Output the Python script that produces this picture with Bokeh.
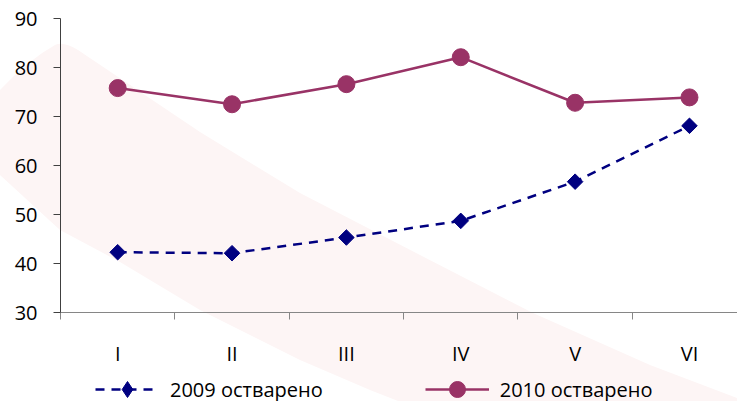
import numpy as np
from bokeh.plotting import figure
from bokeh.layouts import column
from bokeh.models import Range1d, FixedTicker, Legend, LegendItem, ColumnDataSource
from bokeh.embed import file_html
from bokeh.resources import INLINE

months = ["I", "II", "III", "IV", "V", "VI"]
y2009 = [42.3, 42.1, 45.3, 48.7, 56.7, 68.1]
y2010 = [75.8, 72.5, 76.6, 82.1, 72.8, 73.9]
y_ticks = [30, 40, 50, 60, 70, 80, 90]
label_2009 = "2009 остварено"
label_2010 = "2010 остварено"

C09 = "#000080"
C10 = "#993366"
FONT = "Open Sans"
FS = "20px"

pos = list(range(1, len(months) + 1))
src = ColumnDataSource(dict(x=pos, y09=y2009, y10=y2010))

p = figure(width=737, height=369, x_range=Range1d(0.5, 6.42), y_range=Range1d(30, 90),
           output_backend="svg", toolbar_location=None,
           min_border_left=60, min_border_right=0, min_border_top=18, min_border_bottom=56)
p.grid.visible = False
p.outline_line_color = None
p.background_fill_color = None
p.border_fill_color = None

p.line("x", "y09", source=src, line_color=C09, line_width=2.5, line_dash="9 7")
p.scatter("x", "y09", source=src, marker="square", angle=np.pi / 4, size=11,
          fill_color=C09, line_color=C09)
p.line("x", "y10", source=src, line_color=C10, line_width=2.5)
p.scatter("x", "y10", source=src, marker="circle", size=17, fill_color=C10, line_color=C10)

xa = p.xaxis[0]
xa.ticker = FixedTicker(ticks=pos, minor_ticks=[v - 0.5 for v in pos] + [pos[-1] + 0.5])
xa.major_label_overrides = {v: m for v, m in zip(pos, months)}
xa.major_tick_out = 0
xa.major_tick_in = 0
xa.minor_tick_out = 7
xa.minor_tick_in = 0
xa.minor_tick_line_color = "#868686"
xa.axis_line_color = "#868686"
xa.major_label_standoff = 20
xa.major_label_text_font = FONT
xa.major_label_text_font_size = FS
xa.major_label_text_color = "#000000"

ya = p.yaxis[0]
ya.ticker = FixedTicker(ticks=y_ticks)
ya.major_tick_out = 7
ya.major_tick_in = 0
ya.minor_tick_line_color = None
ya.axis_line_color = "#404040"
ya.major_tick_line_color = "#404040"
ya.major_label_standoff = 16
ya.major_label_text_font = FONT
ya.major_label_text_font_size = FS
ya.major_label_text_color = "#000000"

# legend strip below the chart (its renderers use the same series, kept out of view)
lg = figure(width=737, height=32, x_range=Range1d(0, 1), y_range=Range1d(0, 1),
            output_backend="svg", toolbar_location=None, x_axis_type=None, y_axis_type=None,
            min_border=0)
lg.grid.visible = False
lg.outline_line_color = None
lg.background_fill_color = None
lg.border_fill_color = None
l09 = lg.line("x", "y09", source=src, line_color=C09, line_width=2.5, line_dash="9 7")
m09 = lg.scatter("x", "y09", source=src, marker="diamond", size=17, fill_color=C09, line_color=C09)
l10 = lg.line("x", "y10", source=src, line_color=C10, line_width=2.5)
m10 = lg.scatter("x", "y10", source=src, marker="circle", size=17, fill_color=C10, line_color=C10)

legend = Legend(items=[LegendItem(label=label_2009, renderers=[l09, m09]),
                       LegendItem(label=label_2010, renderers=[l10, m10])],
                orientation="horizontal", location=(35, -8),
                glyph_width=64, glyph_height=40, label_height=20, label_standoff=11,
                spacing=102, padding=0, margin=0,
                border_line_color=None, background_fill_alpha=0,
                label_text_font=FONT, label_text_font_size=FS, label_text_color="#000000")
lg.add_layout(legend, "center")

layout = column(p, lg, spacing=0)

# faint decorative watermark band behind the chart
band = ("M55,45 Q63,41 78,50 L200,132 L300,193 L420,255 L533,313 L650,365 L737,398 L737,401 "
        "L398,401 L370,390 L300,360 L200,310 L120,262 L60,230 L0,175 L0,90 Q28,60 55,45 Z")
svg = ("<svg xmlns='http://www.w3.org/2000/svg' width='737' height='401'>"
       "<path d='" + band + "' fill='%23fdf5f5'/></svg>")
layout.styles = {"background-image": 'url("data:image/svg+xml;utf8,' + svg + '")',
                 "background-repeat": "no-repeat"}

open("out.html", "w").write(file_html(layout, INLINE))
